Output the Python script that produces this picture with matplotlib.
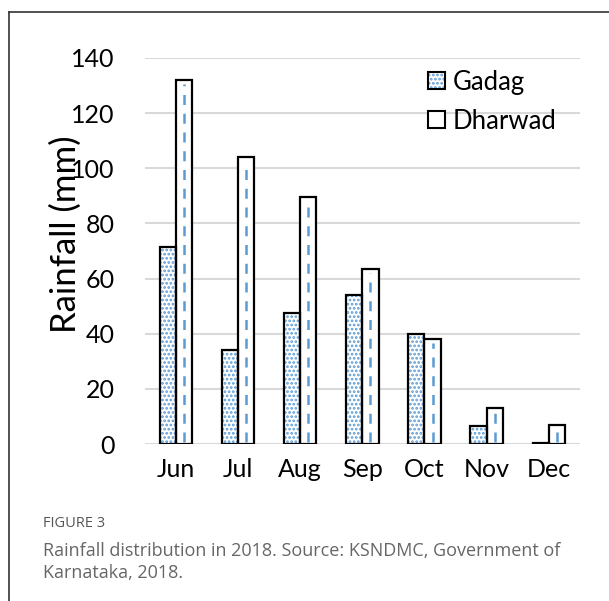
import numpy as np
import matplotlib.pyplot as plt
from matplotlib.patches import Patch
from matplotlib.lines import Line2D

# Monthly rainfall 2018 (mm)
months = ["Jun", "Jul", "Aug", "Sep", "Oct", "Nov", "Dec"]
gadag = [71.5, 34, 47.5, 54, 40, 6.5, 0.3]
dharwad = [132, 104, 89.5, 63.5, 38, 13, 6.8]

BLUE = "#5b9bd5"
plt.rcParams["font.family"] = ["Lato", "DejaVu Sans"]
plt.rcParams["hatch.linewidth"] = 1.3

fig = plt.figure(figsize=(6.09, 6.01), dpi=100)
ax = fig.add_axes([0.238, 0.261, 0.714, 0.6425])

x = np.arange(len(months))
w = 0.26
# Gadag: blue dot fill, black outline drawn on top
ax.bar(x - w / 2, gadag, w, color="white", edgecolor=BLUE, linewidth=0,
       hatch="....", zorder=3)
ax.bar(x - w / 2, gadag, w, fill=False, edgecolor="black", linewidth=1.6,
       zorder=4)
ax.bar(x + w / 2, dharwad, w, color="white", edgecolor="black", linewidth=1.6,
       zorder=3)
# dashed centre line inside the Dharwad bars
for xi, h in zip(x + w / 2, dharwad):
    ax.plot([xi, xi], [0.8, h - 1.5], color=BLUE, lw=1.8,
            dashes=(4, 3.5), zorder=4)

ax.set_xlim(-0.5, len(months) - 0.5)
ax.set_ylim(0, 140)
ax.set_yticks(range(0, 141, 20))
ax.set_xticks(x)
ax.set_xticklabels(months)
ax.tick_params(length=0, labelsize=18, pad=10)
ax.tick_params(axis="y", pad=22)
ax.grid(axis="y", color="#d9d9d9", lw=1.5, zorder=0)
for s in ax.spines.values():
    s.set_visible(False)
ax.set_ylabel("Rainfall (mm)", fontsize=25)
ax.yaxis.set_label_coords(-0.145, 0.545)

h_gadag = (Patch(facecolor="white", edgecolor=BLUE, hatch="....", lw=0),
           Patch(fill=False, edgecolor="black", lw=1.5))
h_dharwad = Patch(facecolor="white", edgecolor="black", lw=1.5)
ax.legend([h_gadag, h_dharwad], ["Gadag", "Dharwad"], loc="upper right",
          bbox_to_anchor=(1.0, 1.03), frameon=False, fontsize=18.5,
          handlelength=0.65, handleheight=0.65, handletextpad=0.3,
          labelspacing=0.55)

# page border and caption
fig.add_artist(Line2D([0.015, 0.015], [0, 0.98], color="#333333", lw=1.2))
fig.add_artist(Line2D([0.015, 1.0], [0.98, 0.98], color="#333333", lw=1.2))
fig.text(0.07, 0.142, "FIGURE 3", fontsize=10.5, color="#555555", va="top",
         family=["Open Sans", "DejaVu Sans"])
fig.text(0.07, 0.098, "Rainfall distribution in 2018. Source: KSNDMC, Government of\nKarnataka, 2018.",
         fontsize=13, color="#666666", linespacing=1.3, va="top",
         family=["Open Sans", "DejaVu Sans"])

fig.savefig("out.png", dpi=100)
